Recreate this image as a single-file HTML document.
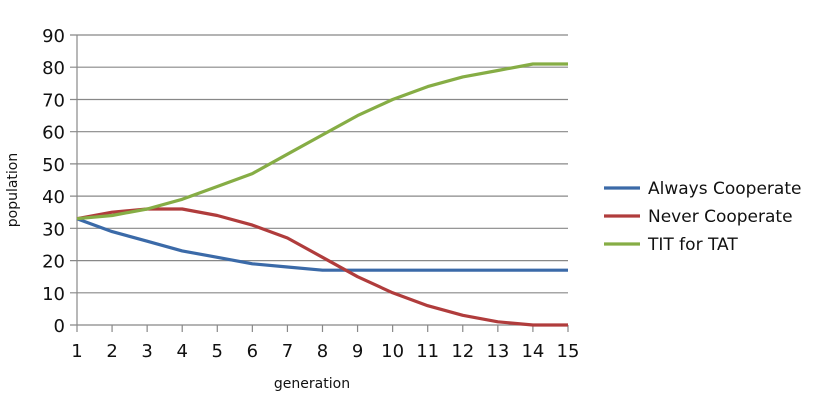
<!DOCTYPE html>
<html><head><style>body{margin:0;background:#fff}svg{display:block;font-family:"DejaVu Sans","Liberation Sans",sans-serif}</style></head><body>
<svg width="825" height="415" viewBox="0 0 825 415">
<g stroke="#888" stroke-width="1.2">
<line x1="70" x2="568" y1="325" y2="325"/><line x1="70" x2="568" y1="292.8" y2="292.8"/><line x1="70" x2="568" y1="260.6" y2="260.6"/><line x1="70" x2="568" y1="228.3" y2="228.3"/><line x1="70" x2="568" y1="196.1" y2="196.1"/><line x1="70" x2="568" y1="163.9" y2="163.9"/><line x1="70" x2="568" y1="131.7" y2="131.7"/><line x1="70" x2="568" y1="99.5" y2="99.5"/><line x1="70" x2="568" y1="67.2" y2="67.2"/><line x1="70" x2="568" y1="35" y2="35"/>
<line x1="77" x2="77" y1="35" y2="332"/>
<line x1="112.07" x2="112.07" y1="325" y2="332"/><line x1="147.14" x2="147.14" y1="325" y2="332"/><line x1="182.21" x2="182.21" y1="325" y2="332"/><line x1="217.28" x2="217.28" y1="325" y2="332"/><line x1="252.35" x2="252.35" y1="325" y2="332"/><line x1="287.42" x2="287.42" y1="325" y2="332"/><line x1="322.49" x2="322.49" y1="325" y2="332"/><line x1="357.56" x2="357.56" y1="325" y2="332"/><line x1="392.63" x2="392.63" y1="325" y2="332"/><line x1="427.7" x2="427.7" y1="325" y2="332"/><line x1="462.77" x2="462.77" y1="325" y2="332"/><line x1="497.84" x2="497.84" y1="325" y2="332"/><line x1="532.91" x2="532.91" y1="325" y2="332"/><line x1="568" x2="568" y1="325" y2="332"/>
</g>
<g font-size="18" fill="#111" text-anchor="end">
<text x="65" y="332">0</text><text x="65" y="299.8">10</text><text x="65" y="267.6">20</text><text x="65" y="235.3">30</text><text x="65" y="203.1">40</text><text x="65" y="170.9">50</text><text x="65" y="138.7">60</text><text x="65" y="106.5">70</text><text x="65" y="74.2">80</text><text x="65" y="42">90</text>
</g>
<g font-size="18" fill="#111" text-anchor="middle">
<text x="77" y="357">1</text><text x="112.07" y="357">2</text><text x="147.14" y="357">3</text><text x="182.21" y="357">4</text><text x="217.28" y="357">5</text><text x="252.35" y="357">6</text><text x="287.42" y="357">7</text><text x="322.49" y="357">8</text><text x="357.56" y="357">9</text><text x="392.63" y="357">10</text><text x="427.7" y="357">11</text><text x="462.77" y="357">12</text><text x="497.84" y="357">13</text><text x="532.91" y="357">14</text><text x="568" y="357">15</text>
</g>
<g fill="none" stroke-width="3.2" stroke-linejoin="round">
<polyline stroke="#3b6aa8" points="77,218.7 112.07,231.6 147.14,241.2 182.21,250.9 217.28,257.3 252.35,263.8 287.42,267 322.49,270.2 357.56,270.2 392.63,270.2 427.7,270.2 462.77,270.2 497.84,270.2 532.91,270.2 568,270.2"/>
<polyline stroke="#b03c3c" points="77,218.7 112.07,212.2 147.14,209 182.21,209 217.28,215.5 252.35,225.1 287.42,238 322.49,257.3 357.56,276.7 392.63,292.8 427.7,305.7 462.77,315.3 497.84,321.8 532.91,325 568,325"/>
<polyline stroke="#86ad45" points="77,218.7 112.07,215.5 147.14,209 182.21,199.3 217.28,186.5 252.35,173.6 287.42,154.2 322.49,134.9 357.56,115.6 392.63,99.5 427.7,86.6 462.77,76.9 497.84,70.5 532.91,64 568,64"/>
</g>
<line x1="604" x2="640" y1="188" y2="188" stroke="#3b6aa8" stroke-width="3.2"/>
<line x1="604" x2="640" y1="216" y2="216" stroke="#b03c3c" stroke-width="3.2"/>
<line x1="604" x2="640" y1="244" y2="244" stroke="#86ad45" stroke-width="3.2"/>
<g font-size="17" fill="#111">
<text x="648" y="194">Always Cooperate</text><text x="648" y="222">Never Cooperate</text><text x="648" y="250">TIT for TAT</text>
</g>
<text x="312" y="388" font-size="14" text-anchor="middle" fill="#111">generation</text>
<text transform="translate(17,190) rotate(-90)" font-size="14" text-anchor="middle" fill="#111">population</text>
</svg></body></html>
